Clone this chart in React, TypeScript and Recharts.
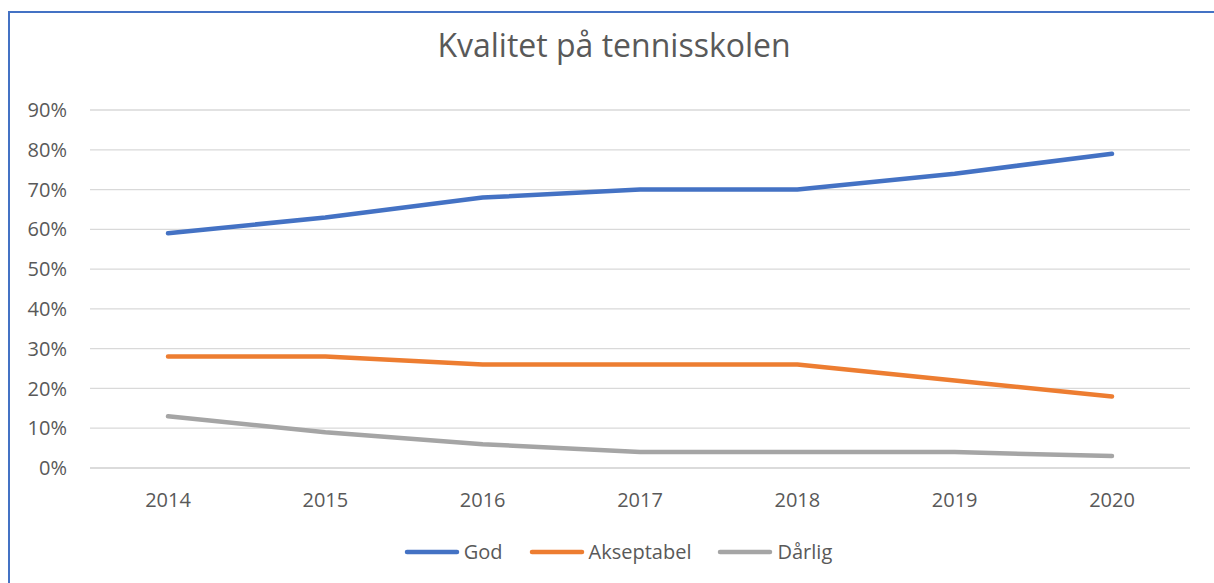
import React from "react";
import { LineChart, Line, XAxis, YAxis, CartesianGrid } from "recharts";

const years = ["2014", "2015", "2016", "2017", "2018", "2019", "2020"];
const god = [59, 63, 68, 70, 70, 74, 79];
const akseptabel = [28, 28, 26, 26, 26, 22, 18];
const darlig = [13, 9, 6, 4, 4, 4, 3];
const yTicks = [0, 10, 20, 30, 40, 50, 60, 70, 80, 90];

const SERIES = [
  { key: "god", name: "God", color: "#4472C4" },
  { key: "akseptabel", name: "Akseptabel", color: "#ED7D31" },
  { key: "darlig", name: "Dårlig", color: "#A5A5A5" },
];

const FONT = "'Open Sans', 'Noto Sans', sans-serif";
const TEXT = "#595959";

const data = years.map((year, i) => ({
  year,
  god: god[i],
  akseptabel: akseptabel[i],
  darlig: darlig[i],
}));

const App = () => {
  return (
    <div style={{ position: "absolute", left: 0, top: 0, width: 1214, height: 583, overflow: "hidden", background: "#fff", fontFamily: FONT }}>
      {/* chart frame, only left and top edges are in view */}
      <div style={{ position: "absolute", left: 8, top: 11, width: 1300, height: 700, borderLeft: "2px solid #4472C4", borderTop: "2px solid #4472C4" }} />

      <svg width={1214} height={80} style={{ position: "absolute", left: 0, top: 0 }}>
        <text x={614} y={57} textAnchor="middle" fontSize={32} fill={TEXT} fontFamily={FONT}>
          Kvalitet på tennisskolen
        </text>
      </svg>

      <div style={{ position: "absolute", left: 0, top: 0 }}>
        <LineChart width={1214} height={583} data={data} margin={{ top: 110, right: 24, bottom: 85, left: 0 }}>
          <CartesianGrid vertical={false} stroke="#D9D9D9" strokeWidth={1.3} />
          <XAxis
            dataKey="year"
            height={30}
            padding={{ left: 78, right: 78 }}
            axisLine={{ stroke: "#D9D9D9", strokeWidth: 1.3 }}
            tickLine={false}
            tickSize={0}
            tickMargin={25}
            tick={{ fill: TEXT, fontSize: 20, fontFamily: FONT }}
          />
          <YAxis
            width={90}
            domain={[0, 90]}
            ticks={yTicks}
            axisLine={false}
            tickLine={false}
            tickSize={0}
            tickMargin={23}
            tickFormatter={(v: number) => `${v}%`}
            tick={{ fill: TEXT, fontSize: 20, fontFamily: FONT }}
          />
          {SERIES.map((s) => (
            <Line
              key={s.key}
              type="linear"
              dataKey={s.key}
              name={s.name}
              stroke={s.color}
              strokeWidth={4.5}
              strokeLinecap="round"
              strokeLinejoin="round"
              dot={false}
              activeDot={false}
              isAnimationActive={false}
            />
          ))}
        </LineChart>
      </div>

      <div style={{ position: "absolute", left: 0, top: 540, width: 1236, height: 24, display: "flex", justifyContent: "center", alignItems: "center", gap: 26 }}>
        {SERIES.map((s) => (
          <div key={s.key} style={{ display: "flex", alignItems: "center", gap: 4 }}>
            <svg width={56} height={10}>
              <line x1={3} y1={5} x2={53} y2={5} stroke={s.color} strokeWidth={4.5} strokeLinecap="round" />
            </svg>
            <span style={{ fontSize: 20, color: TEXT, lineHeight: "24px" }}>{s.name}</span>
          </div>
        ))}
      </div>
    </div>
  );
};

export default App;
